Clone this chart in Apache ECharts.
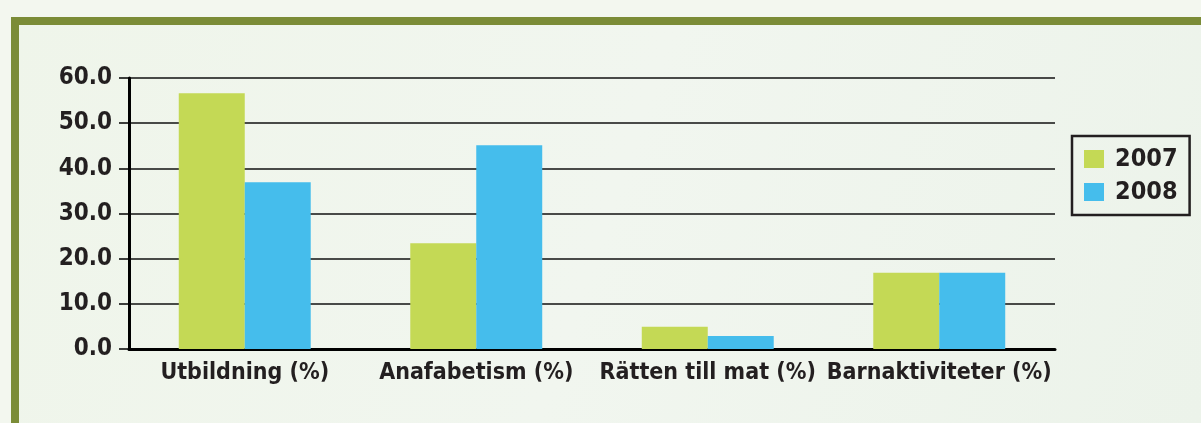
<!DOCTYPE html>
<html>
<head>
<meta charset="utf-8">
<script src="https://cdn.jsdelivr.net/npm/echarts@6/dist/echarts.min.js"></script>
<style>
  html, body { margin: 0; padding: 0; background: #f3f7ef; }
  #chart { width: 1201px; height: 423px; }
</style>
</head>
<body>
<div id="chart"></div>
<script>
// categories and values
const categories = ['Utbildning (%)', 'Anafabetism (%)', 'Rätten till mat (%)', 'Barnaktiviteter (%)']
const values2007 = [56.6, 23.4, 4.9, 16.9]
const values2008 = [36.9, 45.1, 2.9, 16.9]
const yTicks = [0, 10, 20, 30, 40, 50, 60]

const font = "'Liberation Sans Narrow', 'DejaVu Sans Condensed', 'Roboto Condensed', sans-serif"
const ink = '#231f20'

const chart = echarts.init(document.getElementById('chart'), null, {renderer: 'canvas'})

chart.setOption({
  backgroundColor: '#f3f7ef',
  animation: false,
  graphic: [
    // inner panel
    {
      type: 'rect',
      shape: {x: 11, y: 17, width: 1190, height: 406},
      style: {
        fill: new echarts.graphic.LinearGradient(0, 0, 1, 1, [
          {offset: 0, color: '#eff5ea'},
          {offset: 0.5, color: '#f1f6ef'},
          {offset: 1, color: '#ecf3ea'}
        ])
      },
      z: -10
    },
    // olive frame, top and left
    {type: 'rect', shape: {x: 11, y: 17, width: 1190, height: 8}, style: {fill: '#7b8c37'}, z: -5},
    {type: 'rect', shape: {x: 11, y: 17, width: 8, height: 406}, style: {fill: '#7b8c37'}, z: -5}
  ],
  grid: {
    left: 129,
    right: 146,
    top: 78,
    bottom: 74
  },
  legend: {
    orient: 'vertical',
    left: 1072,
    top: 136,
    padding: [10, 12, 10, 12],
    itemGap: 7,
    itemWidth: 20,
    itemHeight: 18,
    icon: 'rect',
    borderColor: ink,
    borderWidth: 2.5,
    backgroundColor: 'transparent',
    textStyle: {
      fontFamily: font,
      fontWeight: 'bold',
      fontSize: 25,
      lineHeight: 26,
      padding: [0, 0, 0, 6],
      color: ink
    },
    data: ['2007', '2008']
  },
  xAxis: {
    type: 'category',
    data: categories,
    axisLine: {lineStyle: {color: '#000', width: 3}},
    axisTick: {show: false},
    axisLabel: {
      margin: 13,
      fontFamily: font,
      fontWeight: 'bold',
      fontSize: 23,
      color: ink,
      interval: 0
    }
  },
  yAxis: {
    type: 'value',
    min: yTicks[0],
    max: yTicks[yTicks.length - 1],
    interval: 10,
    axisLine: {show: true, lineStyle: {color: '#000', width: 3}},
    axisTick: {show: true, length: 10, lineStyle: {color: '#000', width: 1.5}},
    splitLine: {lineStyle: {color: '#111', width: 1.5}},
    axisLabel: {
      margin: 17,
      fontFamily: font,
      fontWeight: 'bold',
      fontSize: 24,
      color: ink,
      formatter: (v) => v.toFixed(1)
    }
  },
  series: [
    {
      name: '2007',
      type: 'bar',
      data: values2007,
      barGap: '0%',
      barCategoryGap: '43%',
      itemStyle: {color: '#c4d955'}
    },
    {
      name: '2008',
      type: 'bar',
      data: values2008,
      barGap: '0%',
      barCategoryGap: '43%',
      itemStyle: {color: '#45bdec'}
    }
  ]
})
</script>
</body>
</html>
